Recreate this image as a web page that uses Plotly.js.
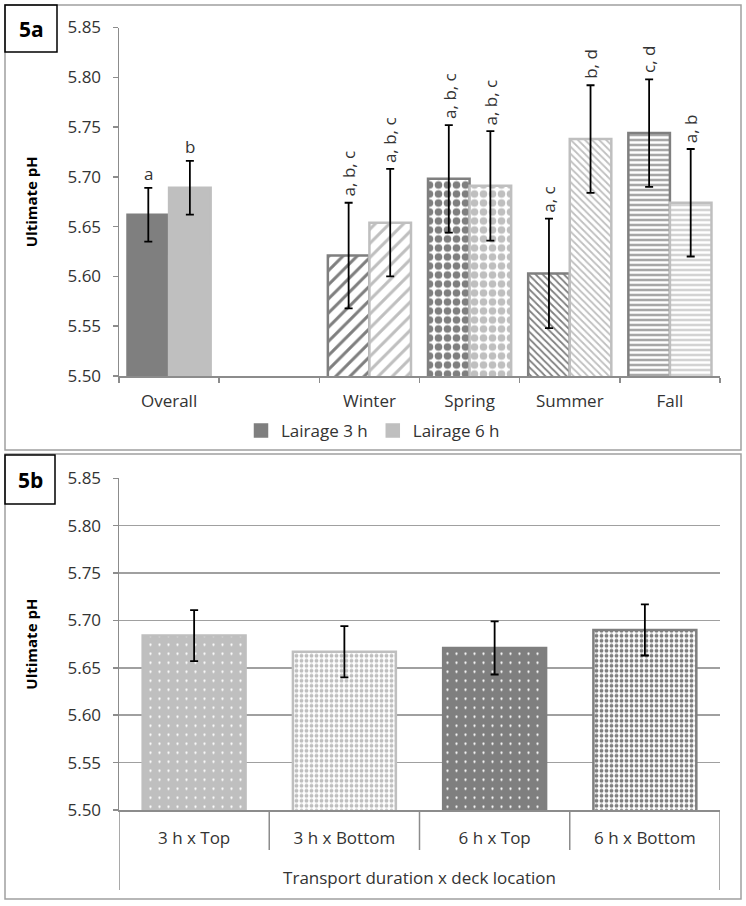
<!DOCTYPE html>
<html><head><meta charset="utf-8">
<script src="https://cdn.plot.ly/plotly-3.0.1.min.js"></script>
<style>html,body{margin:0;padding:0;background:#fff}</style>
</head><body><div id="chart" style="width:746px;height:906px"></div>
<script>
// ---- Panel 5a data ----
const seasonCats = ['Overall', ' ', 'Winter', 'Spring', 'Summer', 'Fall'];
const lairage3h = [5.662, null, 5.621, 5.698, 5.603, 5.744];
const lairage3hErr = [0.027, null, 0.053, 0.054, 0.055, 0.054];
const lairage6h = [5.689, null, 5.654, 5.691, 5.738, 5.674];
const lairage6hErr = [0.027, null, 0.054, 0.055, 0.054, 0.054];
const labels3h = ['a', '', 'a, b, c', 'a, b, c', 'a, c', 'c, d'];
const labels6h = ['b', '', 'a, b, c', 'a, b, c', 'b, d', 'a, b'];
const seriesNames = ['Lairage 3 h', 'Lairage 6 h'];
// ---- Panel 5b data ----
const transportCats = ['3 h x Top', '3 h x Bottom', '6 h x Top', '6 h x Bottom'];
const transportPH = [5.684, 5.667, 5.671, 5.690];
const transportErr = [0.027, 0.027, 0.028, 0.027];
const yTicks = [5.50, 5.55, 5.60, 5.65, 5.70, 5.75, 5.80, 5.85];

// ---- styling ----
const W = 746, H = 906;
const FONT = 'Open Sans, Noto Sans, sans-serif';
const DARK = '#7f7f7f', LIGHT = '#bfbfbf', AX = '#8c8c8c', TXT = '#333333';
const px = v => v / W, py = v => 1 - v / H;
const topX = [px(119), px(720)], topY = [py(376), py(27.5)];
const botX = [px(119), px(720)], botY = [py(810), py(478.3)];
const BARGAP = 0.17;

function seasonPattern(c) {
  return {
    shape:    ['', '', '/', '.', '\\', '-'],
    fgcolor:  [c, c, c, c, c, c],
    bgcolor:  [c, '#ffffff', '#ffffff', '#ffffff', '#ffffff', '#ffffff'],
    size:     [8, 8, 10, 9, 5, 5],
    solidity: [0.3, 0.3, 0.3, 0.55, 0.35, 0.35]
  };
}
const errStyle = {type: 'data', color: '#000', thickness: 1.8, width: 4, visible: true};

const traces = [
  {type: 'bar', name: seriesNames[0], x: seasonCats, y: lairage3h, xaxis: 'x', yaxis: 'y',
   marker: {color: DARK, pattern: seasonPattern(DARK), line: {color: DARK, width: 2.5}},
   error_y: Object.assign({array: lairage3hErr}, errStyle), hoverinfo: 'skip'},
  {type: 'bar', name: seriesNames[1], x: seasonCats, y: lairage6h, xaxis: 'x', yaxis: 'y',
   marker: {color: LIGHT, pattern: seasonPattern(LIGHT), line: {color: LIGHT, width: 2.5}},
   error_y: Object.assign({array: lairage6hErr}, errStyle), hoverinfo: 'skip'},
  {type: 'bar', name: 'Transport', showlegend: false, x: transportCats, y: transportPH,
   xaxis: 'x2', yaxis: 'y2', width: 0.685,
   marker: {color: LIGHT,
            pattern: {shape: ['.', '.', '.', '.'],
                      fgcolor: ['#ffffff', LIGHT, '#ffffff', DARK],
                      bgcolor: [LIGHT, '#ffffff', DARK, '#ffffff'],
                      size: [9, 5, 9, 5], solidity: [0.05, 0.45, 0.05, 0.45]},
            line: {color: [LIGHT, LIGHT, DARK, DARK], width: 2.5}},
   error_y: Object.assign({array: transportErr}, errStyle), hoverinfo: 'skip'}
];

// letter annotations above error bars
const annotations = [];
const catW = (topX[1] - topX[0]) * W / seasonCats.length;
const off = catW * (1 - BARGAP) / 4;
function addLabels(labels, vals, errs, sign) {
  labels.forEach((t, i) => {
    if (!t) return;
    const rot = t.length > 1;
    annotations.push({x: seasonCats[i], y: vals[i] + errs[i], xref: 'x', yref: 'y',
      text: t, showarrow: false, textangle: rot ? -90 : 0,
      xanchor: 'center', yanchor: 'bottom', xshift: sign * off, yshift: rot ? 4 : 1,
      font: {family: FONT, size: 17, color: TXT}});
  });
}
addLabels(labels3h, lairage3h, lairage3hErr, -1);
addLabels(labels6h, lairage6h, lairage6hErr, 1);
// panel tags
annotations.push({x: px(31), y: py(29), xref: 'paper', yref: 'paper', text: '5a', showarrow: false,
  xanchor: 'center', yanchor: 'middle', font: {family: FONT, size: 21, color: '#000', weight: 'bold'}});
annotations.push({x: px(30), y: py(480), xref: 'paper', yref: 'paper', text: '5b', showarrow: false,
  xanchor: 'center', yanchor: 'middle', font: {family: FONT, size: 21, color: '#000', weight: 'bold'}});

// decoration shapes
const shapes = [
  {type: 'rect', xref: 'paper', yref: 'paper', x0: px(5), x1: px(741), y0: py(450), y1: py(5),
   line: {color: '#a0a0a0', width: 1.5}},
  {type: 'rect', xref: 'paper', yref: 'paper', x0: px(5), x1: px(741), y0: py(899), y1: py(454),
   line: {color: '#a0a0a0', width: 1.5}},
  {type: 'rect', xref: 'paper', yref: 'paper', x0: px(5), x1: px(57), y0: py(52), y1: py(5),
   line: {color: '#000', width: 1.5}},
  {type: 'rect', xref: 'paper', yref: 'paper', x0: px(5), x1: px(55), y0: py(504), y1: py(455),
   line: {color: '#000', width: 1.5}}
];
for (let i = 0; i <= transportCats.length; i++) {
  const edge = (i === 0 || i === transportCats.length);
  shapes.push({type: 'line', xref: 'x2', yref: 'paper', x0: i - 0.5, x1: i - 0.5,
    y0: botY[0], y1: botY[0] - (edge ? 80 : 40) / H, line: {color: AX, width: 1.5}});
}

const yAxisCommon = {range: [5.5, 5.85], tickvals: yTicks, tickformat: '.2f',
  showline: true, linecolor: AX, linewidth: 1.5, ticks: 'outside', ticklen: 5,
  tickcolor: AX, tickwidth: 1.5, zeroline: false, ticklabelstandoff: 8,
  tickfont: {family: FONT, size: 17, color: TXT}, fixedrange: true,
  title: {text: 'Ultimate pH', font: {family: FONT, size: 15, color: '#000', weight: 'bold'}, standoff: 26}};

const layout = {
  width: W, height: H, margin: {l: 0, r: 0, t: 0, b: 0},
  paper_bgcolor: '#fff', plot_bgcolor: '#fff',
  barmode: 'group', bargap: BARGAP, bargroupgap: 0,
  font: {family: FONT, color: TXT},
  showlegend: true,
  legend: {orientation: 'h', x: 0.5, xanchor: 'center', y: py(431), yanchor: 'middle',
           font: {family: FONT, size: 17, color: TXT}, itemwidth: 30, bgcolor: 'rgba(0,0,0,0)'},
  xaxis: {domain: topX, anchor: 'y', type: 'category', categoryorder: 'array',
          categoryarray: seasonCats, range: [-0.5, seasonCats.length - 0.5],
          showline: true, linecolor: AX, linewidth: 1.5, ticks: 'outside', tickson: 'boundaries',
          ticklen: 5, tickcolor: AX, tickwidth: 1.5, ticklabelstandoff: 9, showgrid: false,
          zeroline: false, tickfont: {family: FONT, size: 17, color: TXT}, fixedrange: true},
  yaxis: Object.assign({domain: topY, anchor: 'x', showgrid: false}, yAxisCommon),
  xaxis2: {domain: botX, anchor: 'y2', type: 'category', categoryorder: 'array',
           categoryarray: transportCats, range: [-0.5, transportCats.length - 0.5],
           showline: true, linecolor: AX, linewidth: 1.5, ticks: 'outside', ticklen: 12,
           tickcolor: 'rgba(0,0,0,0)', showgrid: false, zeroline: false,
           tickfont: {family: FONT, size: 17, color: TXT}, fixedrange: true,
           title: {text: 'Transport duration x deck location', standoff: 24,
                   font: {family: FONT, size: 17, color: TXT}}},
  yaxis2: Object.assign({domain: botY, anchor: 'x2', showgrid: true, gridcolor: '#a0a0a0', gridwidth: 1.5},
                        yAxisCommon),
  annotations: annotations,
  shapes: shapes
};

Plotly.newPlot('chart', traces, layout, {displayModeBar: false, staticPlot: true});
</script></body></html>
